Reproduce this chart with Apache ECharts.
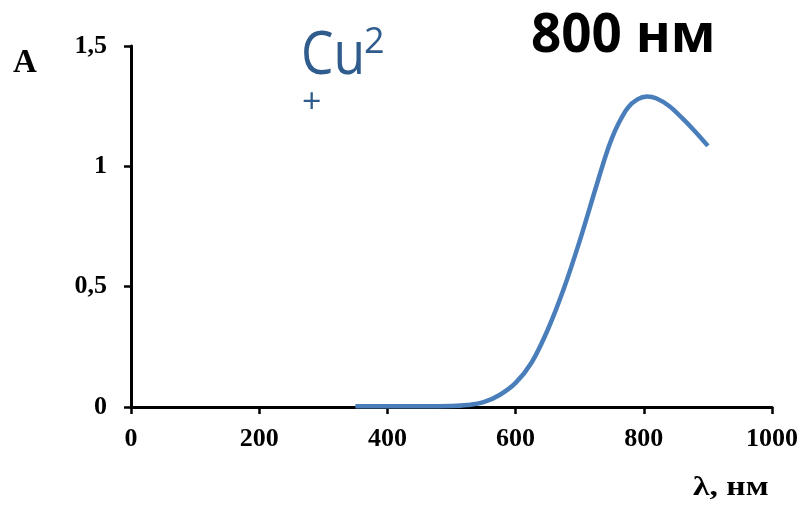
<!DOCTYPE html>
<html>
<head>
    <meta charset="utf-8">
    <title>Cu2+ 800 нм</title>
    <script src="https://cdn.jsdelivr.net/npm/echarts@6/dist/echarts.min.js"></script>
    <style>
        html, body { margin: 0; padding: 0; background: #ffffff; }
        #chart { width: 805px; height: 508px; }
    </style>
</head>
<body>
<div id="chart"></div>
<script>
    // данные спектра
    var wavelengths = [350, 400, 450, 500, 525, 550, 575, 600, 625, 650, 675, 700, 725, 740, 750, 760, 775, 790, 805, 820, 840, 860, 880, 900];
    var absorbance = [0.003, 0.003, 0.003, 0.004, 0.008, 0.02, 0.05, 0.1, 0.185, 0.32, 0.49, 0.69, 0.91, 1.04, 1.115, 1.175, 1.243, 1.278, 1.29, 1.282, 1.25, 1.2, 1.145, 1.085];
    var xTicks = [0, 200, 400, 600, 800, 1000];
    var yTicks = [0, 0.5, 1, 1.5];

    var points = wavelengths.map(function (w, i) { return [w, absorbance[i]]; });
    var serif = '"Liberation Serif", "DejaVu Serif", serif';
    var sans = '"Open Sans", "Liberation Sans", sans-serif';
    var blue = '#2f5c8c';

    var chart = echarts.init(document.getElementById('chart'));
    chart.setOption({
        animation: false,
        grid: { left: 131, right: 33, top: 46, bottom: 101 },
        xAxis: {
            type: 'value',
            min: xTicks[0],
            max: xTicks[xTicks.length - 1],
            interval: 200,
            splitLine: { show: false },
            axisLine: { lineStyle: { color: '#000', width: 3 } },
            axisTick: { show: true, length: 7, lineStyle: { color: '#000', width: 2.5 } },
            axisLabel: {
                margin: 19,
                fontFamily: serif, fontWeight: 'bold', fontSize: 26, color: '#000',
                formatter: function (v) { return String(v); }
            }
        },
        yAxis: {
            type: 'value',
            min: yTicks[0],
            max: yTicks[yTicks.length - 1],
            interval: 0.5,
            splitLine: { show: false },
            axisLine: { show: true, lineStyle: { color: '#000', width: 3 } },
            axisTick: { show: true, length: 7, lineStyle: { color: '#000', width: 2.5 } },
            axisLabel: {
                margin: 24,
                fontFamily: serif, fontWeight: 'bold', fontSize: 26, color: '#000',
                formatter: function (v) { return String(v).replace('.', ','); }
            }
        },
        graphic: [
            { type: 'text', style: { x: 531, y: 37, text: '800 нм', font: 'bold 53px ' + sans, fill: '#000', verticalAlign: 'middle' } },
            { type: 'text', style: { x: 13, y: 63, text: 'A', font: 'bold 33px ' + serif, fill: '#000', verticalAlign: 'middle' } },
            { type: 'text', x: 693, y: 488, scaleX: 1.2, style: { x: 0, y: 0, text: 'λ, нм', font: 'bold 28px ' + serif, fill: '#000', verticalAlign: 'middle' } },
            { type: 'text', x: 301, y: 57, scaleX: 0.86, style: { x: 0, y: 0, text: 'Cu', font: '60px ' + sans, fill: blue, verticalAlign: 'middle' } },
            { type: 'text', x: 364, y: 43, style: { x: 0, y: 0, text: '2', font: '36px ' + sans, fill: blue, verticalAlign: 'middle' } },
            { type: 'text', style: { x: 302, y: 103, text: '+', font: '34px ' + sans, fill: blue, verticalAlign: 'middle' } }
        ],
        series: [{
            type: 'line',
            data: points,
            smooth: 0.35,
            showSymbol: false,
            lineStyle: { color: '#4a7ebb', width: 4.5 }
        }]
    });
</script>
</body>
</html>
